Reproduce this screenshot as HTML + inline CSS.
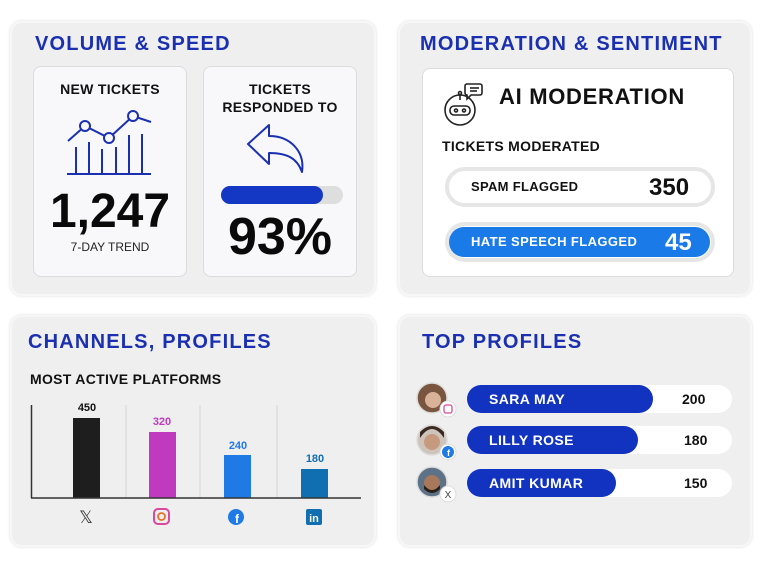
<!DOCTYPE html>
<html><head><meta charset="utf-8"><style>
*{margin:0;padding:0;box-sizing:border-box}
body{width:768px;height:572px;background:#fff;position:relative;font-family:"Liberation Sans",sans-serif;overflow:hidden}
.a{position:absolute}
.panel{position:absolute;background:#efeff0;border:2px solid #f7f7f7;border-radius:12px;box-shadow:0 0 3px #ddd}
.card{position:absolute;background:#f8f8fa;border:1.5px solid #dcdcdf;border-radius:8px}
.t{position:absolute;color:#1a30b0;font-weight:bold;font-size:20px;white-space:nowrap;letter-spacing:1.2px}
.b{font-weight:bold;white-space:nowrap;position:absolute}
.c{text-align:center}
</style></head><body>
<!-- Panel 1 -->
<div class="panel" style="left:10px;top:21px;width:366px;height:275px"></div>
<div class="t" style="left:35px;top:33px">VOLUME &amp; SPEED</div>
<div class="card" style="left:33px;top:66px;width:154px;height:211px"></div>
<div class="card" style="left:203px;top:66px;width:154px;height:211px"></div>
<div class="b c" style="left:33px;top:81px;width:154px;font-size:14px;color:#111;letter-spacing:0.3px">NEW TICKETS</div>
<svg class="a" style="left:33px;top:100px" width="154" height="80" viewBox="0 0 154 80">
<g stroke="#1a30b0" stroke-width="2" fill="none">
<polyline points="35,41 52,26 76,38 100,16 118,22"/>
<circle cx="52" cy="26" r="5" fill="#f8f8fa"/><circle cx="76" cy="38" r="5" fill="#f8f8fa"/><circle cx="100" cy="16" r="5" fill="#f8f8fa"/>
<line x1="43" y1="47" x2="43" y2="74"/><line x1="56" y1="42" x2="56" y2="74"/><line x1="69" y1="49" x2="69" y2="74"/><line x1="83" y1="47" x2="83" y2="74"/><line x1="96" y1="35" x2="96" y2="74"/><line x1="109" y1="34" x2="109" y2="74"/>
<line x1="34" y1="74" x2="118" y2="74"/></g></svg>
<div class="b c" style="left:33px;top:184px;width:154px;font-size:48px;color:#0a0a0a;letter-spacing:0px;font-weight:900">1,247</div>
<div class="a c" style="left:33px;top:240px;width:154px;font-size:12px;color:#222">7-DAY TREND</div>
<div class="b c" style="left:203px;top:80px;width:154px;font-size:14px;line-height:18px;color:#111;letter-spacing:0.3px">TICKETS<br>RESPONDED TO</div>
<svg class="a" style="left:245px;top:122px" width="62" height="54" viewBox="0 0 62 54">
<path d="M3,22 L24,3 L24,14 C46,14 60,30 57,50 C52,36 42,31 24,31 L24,42 Z" fill="none" stroke="#1a30b0" stroke-width="2" stroke-linejoin="round"/></svg>
<div class="a" style="left:221px;top:186px;width:122px;height:18px;border-radius:9px;background:#dedede"></div>
<div class="a" style="left:221px;top:186px;width:102px;height:18px;border-radius:9px;background:#1437c4"></div>
<div class="b c" style="left:203px;top:207px;width:154px;font-size:52px;color:#0a0a0a;font-weight:900">93%</div>

<!-- Panel 2 -->
<div class="panel" style="left:398px;top:21px;width:354px;height:275px"></div>
<div class="t" style="left:420px;top:33px">MODERATION &amp; SENTIMENT</div>
<div class="card" style="left:422px;top:68px;width:312px;height:209px;background:#fff"></div>
<svg class="a" style="left:440px;top:82px" width="44" height="46" viewBox="0 0 44 46">
<g fill="none" stroke="#222" stroke-width="1.6"><circle cx="20" cy="28" r="15"/><rect x="10" y="24" width="20" height="9" rx="4"/><circle cx="16" cy="28.5" r="1.5"/><circle cx="24" cy="28.5" r="1.5"/><line x1="20" y1="13" x2="20" y2="18"/><circle cx="20" cy="11" r="1.5"/><path d="M26,2 h14 a2,2 0 0 1 2,2 v7 a2,2 0 0 1 -2,2 h-9 l-4,4 v-4 a2,2 0 0 1 -2,-2 v-7 a2,2 0 0 1 2,-2z"/><line x1="30" y1="6" x2="39" y2="6"/><line x1="30" y1="9" x2="37" y2="9"/></g></svg>
<div class="a" style="left:499px;top:84px;font-size:22px;color:#111;font-weight:bold;white-space:nowrap;letter-spacing:0.7px">AI MODERATION</div>
<div class="b" style="left:442px;top:138px;font-size:14px;color:#111;letter-spacing:0.3px">TICKETS MODERATED</div>
<div class="a" style="left:445px;top:167px;width:270px;height:40px;border-radius:20px;background:#fff;border:4px solid #e6e6e6"></div>
<div class="b" style="left:471px;top:179px;font-size:13px;color:#111;letter-spacing:0.3px">SPAM FLAGGED</div>
<div class="b" style="left:649px;top:174px;font-size:24px;color:#111">350</div>
<div class="a" style="left:445px;top:222px;width:270px;height:40px;border-radius:20px;background:#fff;border:4px solid #e6e6e6"></div>
<div class="a" style="left:449px;top:227px;width:261px;height:30px;border-radius:15px;background:#1a7be8"></div>
<div class="b" style="left:471px;top:234px;font-size:13px;color:#fff;letter-spacing:0.4px">HATE SPEECH FLAGGED</div>
<div class="b" style="left:665px;top:229px;font-size:24px;color:#fff">45</div>

<!-- Panel 3 -->
<div class="panel" style="left:10px;top:315px;width:366px;height:232px"></div>
<div class="t" style="left:28px;top:331px">CHANNELS, PROFILES</div>
<div class="b" style="left:30px;top:371px;font-size:14px;color:#111;letter-spacing:0.3px">MOST ACTIVE PLATFORMS</div>
<svg class="a" style="left:0;top:395px" width="380" height="140" viewBox="0 395 380 140">
<g stroke="#d6d6d6" stroke-width="1"><line x1="126" y1="405" x2="126" y2="498"/><line x1="200" y1="405" x2="200" y2="498"/><line x1="277" y1="405" x2="277" y2="498"/></g>
<rect x="73" y="418" width="27" height="80" fill="#1e1e1e"/>
<rect x="149" y="432" width="27" height="66" fill="#c03ac0"/>
<rect x="224" y="455" width="27" height="43" fill="#1f7ae6"/>
<rect x="301" y="469" width="27" height="29" fill="#0f6fb0"/>
<line x1="31.5" y1="405" x2="31.5" y2="498" stroke="#333" stroke-width="1.5"/>
<line x1="31" y1="498" x2="361" y2="498" stroke="#333" stroke-width="1.5"/>
<g font-family="Liberation Sans" font-weight="bold" font-size="11" text-anchor="middle">
<text x="87" y="411" fill="#111">450</text><text x="162" y="425" fill="#c03ac0">320</text><text x="238" y="449" fill="#1f7ae6">240</text><text x="315" y="462" fill="#0f6fb0">180</text></g>
<text x="86" y="523" font-size="17" text-anchor="middle" fill="#333" font-family="DejaVu Sans">𝕏</text>
<rect x="154" y="509" width="15" height="15" rx="4" fill="none" stroke="#d9489a" stroke-width="2"/><circle cx="161.5" cy="516.5" r="3.5" fill="none" stroke="#e8722a" stroke-width="1.8"/>
<circle cx="236" cy="517" r="8" fill="#1f7ae6"/><text x="237" y="523" font-size="12" font-weight="bold" fill="#fff" text-anchor="middle" font-family="Liberation Sans">f</text>
<rect x="306" y="509" width="16" height="16" rx="2" fill="#0f6fb0"/><text x="314" y="522" font-size="11" font-weight="bold" fill="#fff" text-anchor="middle" font-family="Liberation Sans">in</text>
</svg>

<!-- Panel 4 -->
<div class="panel" style="left:398px;top:315px;width:354px;height:232px"></div>
<div class="t" style="left:422px;top:331px">TOP PROFILES</div>
<div class="a" style="left:467px;top:385px;width:265px;height:28px;border-radius:14px;background:#fff"></div>
<div class="a" style="left:467px;top:385px;width:186px;height:28px;border-radius:14px;background:#1133c0"></div>
<div class="a" style="left:467px;top:426px;width:265px;height:28px;border-radius:14px;background:#fff"></div>
<div class="a" style="left:467px;top:426px;width:171px;height:28px;border-radius:14px;background:#1133c0"></div>
<div class="a" style="left:467px;top:469px;width:265px;height:28px;border-radius:14px;background:#fff"></div>
<div class="a" style="left:467px;top:469px;width:149px;height:28px;border-radius:14px;background:#1133c0"></div>
<div class="b" style="left:489px;top:391px;font-size:14px;color:#fff;letter-spacing:0.4px">SARA MAY</div>
<div class="b" style="left:489px;top:432px;font-size:14px;color:#fff;letter-spacing:0.4px">LILLY ROSE</div>
<div class="b" style="left:489px;top:475px;font-size:14px;color:#fff;letter-spacing:0.4px">AMIT KUMAR</div>
<div class="b" style="left:682px;top:391px;font-size:14px;color:#111">200</div>
<div class="b" style="left:684px;top:432px;font-size:14px;color:#111">180</div>
<div class="b" style="left:684px;top:475px;font-size:14px;color:#111">150</div>
<svg class="a" style="left:410px;top:380px" width="60" height="125" viewBox="410 380 60 125">
<circle cx="432" cy="398" r="15" fill="#7a5540" stroke="#ddd" stroke-width="1.5"/><circle cx="433" cy="400" r="8" fill="#d8b39a"/>
<circle cx="432" cy="440" r="15" fill="#cfc4bb" stroke="#ddd" stroke-width="1.5"/><circle cx="432" cy="442" r="8" fill="#c69a7e"/><path d="M420,438 q12,-18 24,0 l0,-6 q-12,-12 -24,0z" fill="#3a2a22"/>
<circle cx="432" cy="482" r="15" fill="#5d7287" stroke="#ddd" stroke-width="1.5"/><circle cx="432" cy="483" r="8" fill="#a7785c"/><path d="M424,485 q8,10 16,0 v4 q-8,8 -16,0z" fill="#2a1e18"/>
<circle cx="448" cy="409" r="8" fill="#fff" stroke="#ddd"/><rect x="444" y="405" width="8" height="8" rx="2" fill="none" stroke="#d9489a" stroke-width="1.3"/>
<circle cx="448" cy="452" r="8" fill="#fff" stroke="#ddd"/><circle cx="448" cy="452" r="6" fill="#1f7ae6"/><text x="448.5" y="456" font-size="9" font-weight="bold" fill="#fff" text-anchor="middle" font-family="Liberation Sans">f</text>
<circle cx="448" cy="494" r="8" fill="#fff" stroke="#ddd"/><text x="448" y="498" font-size="10" fill="#444" text-anchor="middle" font-family="Liberation Sans">X</text>
</svg>
</body></html>
